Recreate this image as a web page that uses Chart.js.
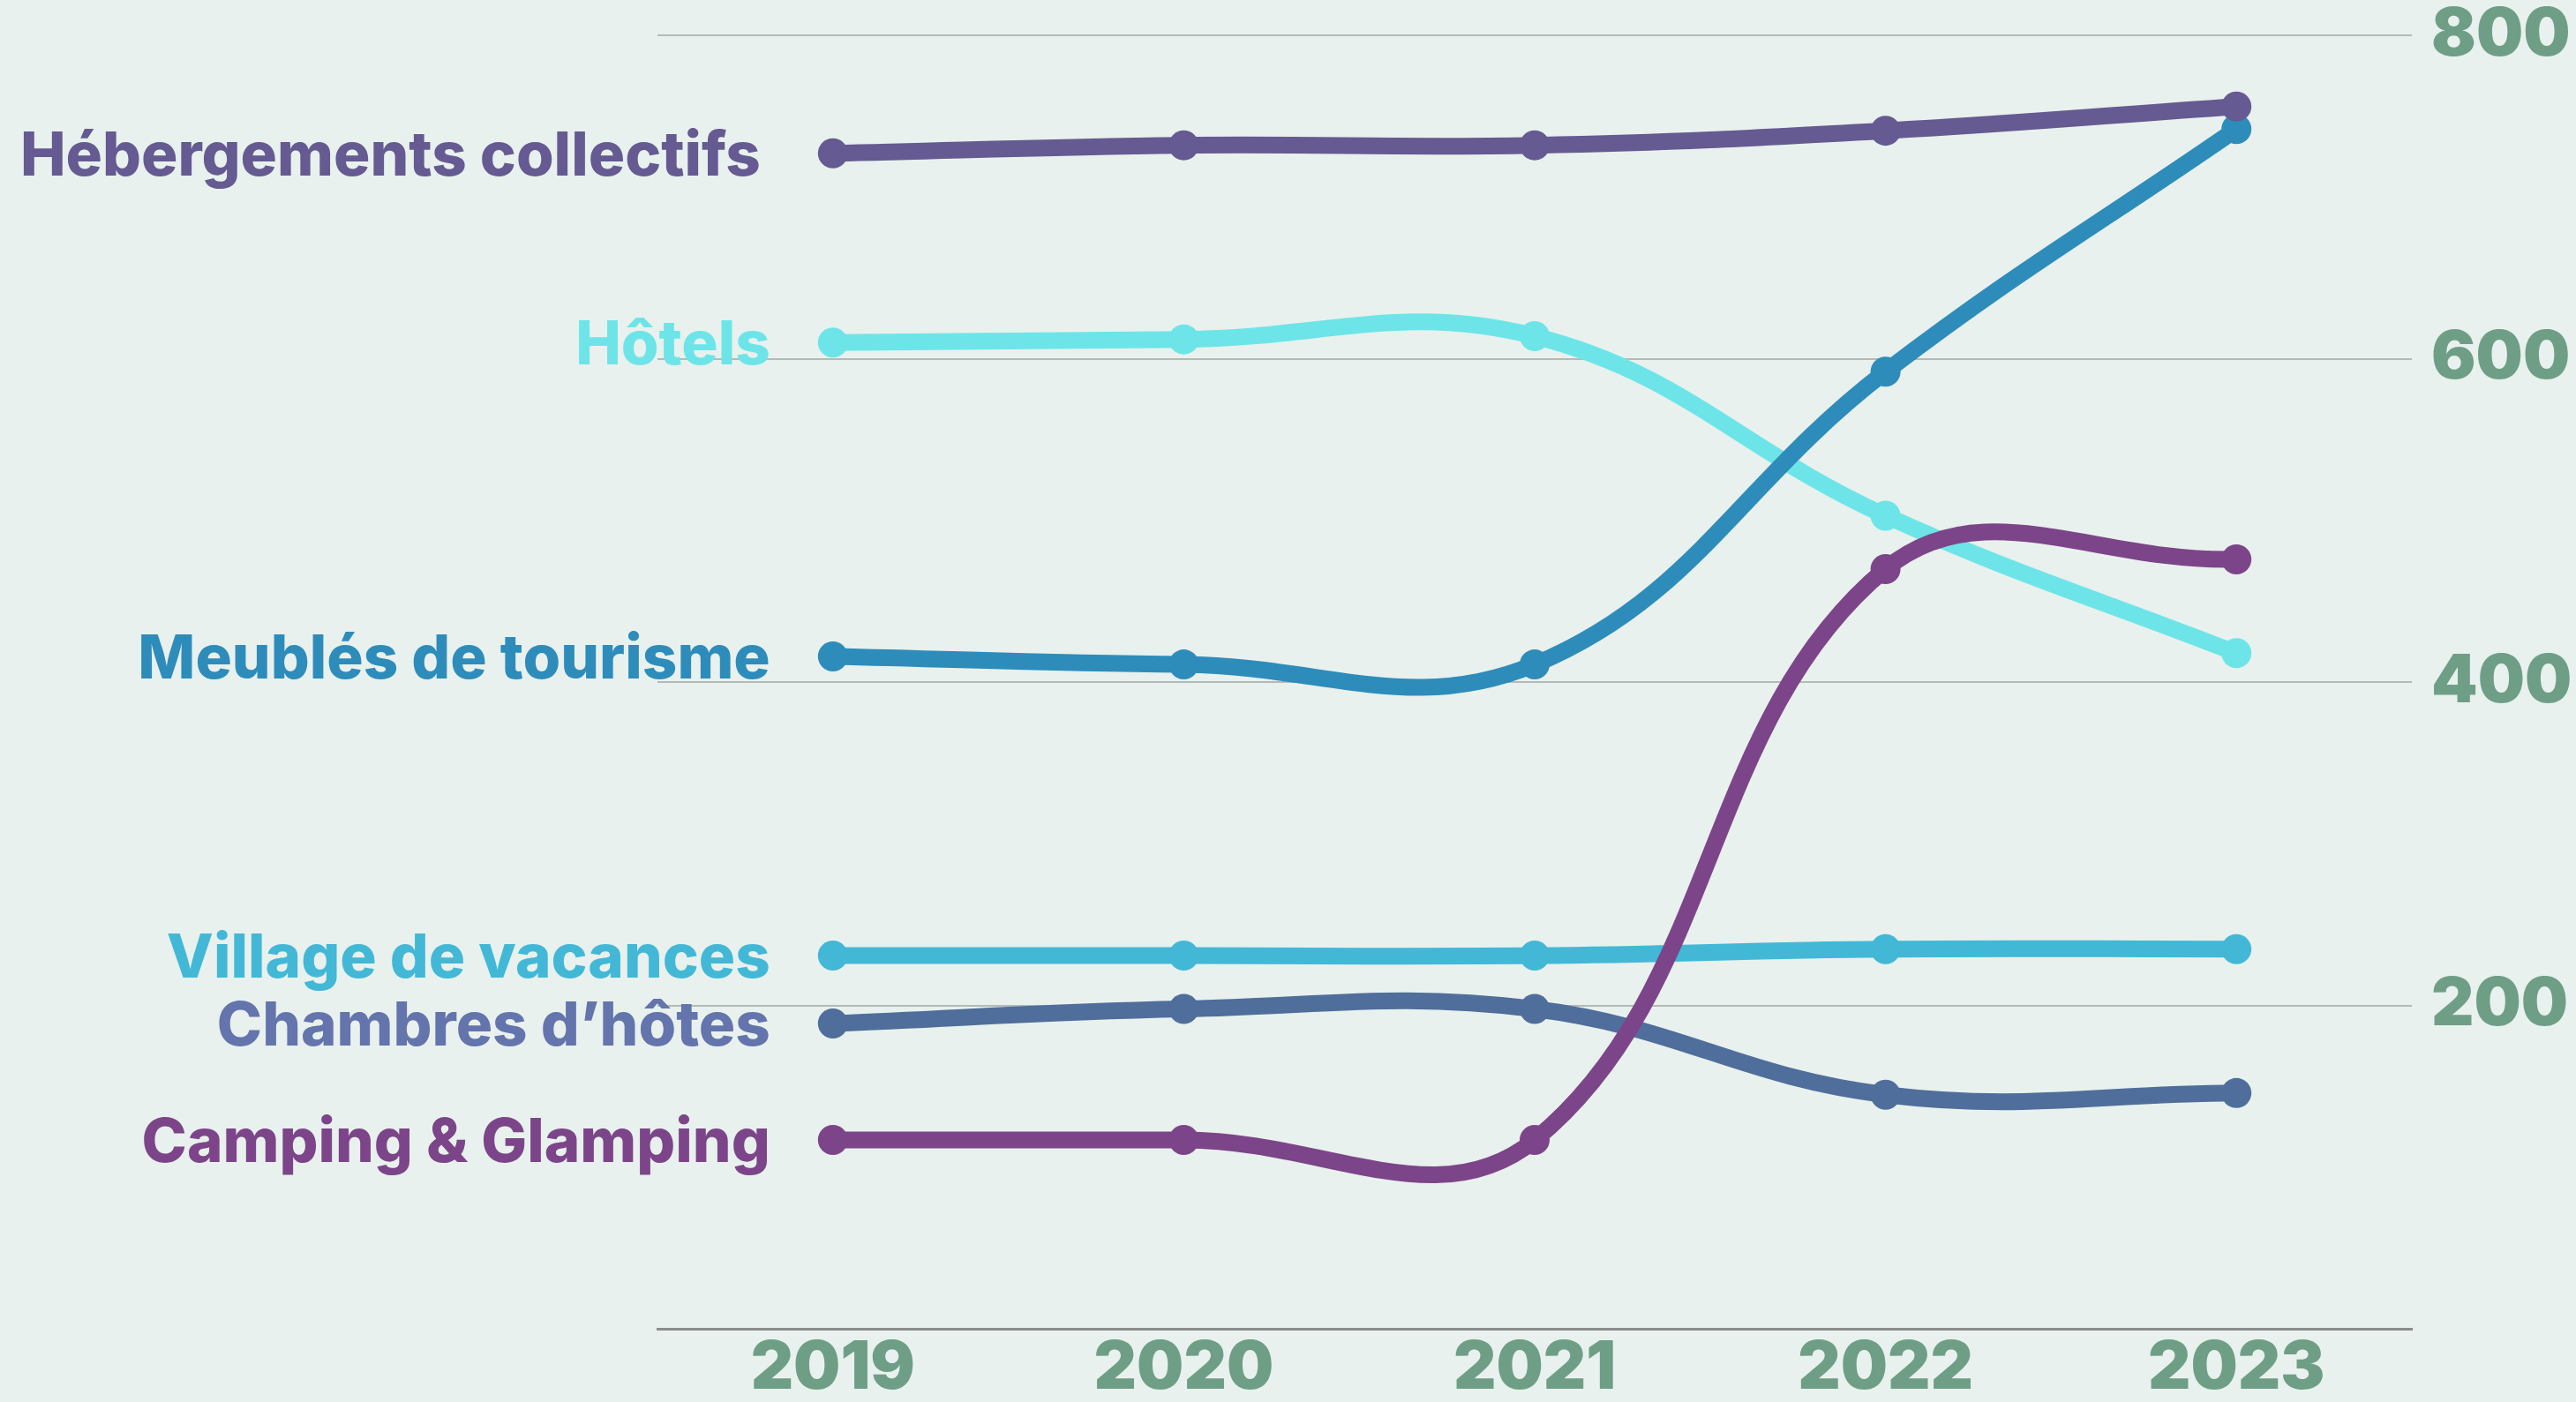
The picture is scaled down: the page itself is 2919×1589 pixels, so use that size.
<!DOCTYPE html>
<html>
<head>
<meta charset="utf-8">
<script src="https://cdn.jsdelivr.net/npm/chart.js@4/dist/chart.umd.min.js"></script>
<style>
  html, body { margin: 0; padding: 0; background: #e8f1ed; }
  #wrap { width: 2919px; height: 1589px; position: relative; }
  canvas { display: block; }
</style>
</head>
<body>
<div id="wrap"><canvas id="c" width="2919" height="1589"></canvas></div>
<script>
const years = ['2019', '2020', '2021', '2022', '2023'];
const yTicks = [200, 400, 600, 800];

const seriesNames = [
  'Hébergements collectifs',
  'Hôtels',
  'Meublés de tourisme',
  'Village de vacances',
  'Chambres d’hôtes',
  'Camping & Glamping'
];
const hebergementsCollectifs = [727, 732, 732, 741, 756];
const hotels = [610, 612, 614, 503, 418];
const meubles = [416, 411, 411, 592, 742];
const villageVacances = [231, 231, 231, 235, 235];
const chambresHotes = [189, 198, 198, 145, 146];
const camping = [117, 117, 117, 470, 476];

const seriesValues = [hebergementsCollectifs, hotels, meubles, villageVacances, chambresHotes, camping];
const lineColors = ['#655a91', '#6de5e8', '#2e8cbb', '#43b8d6', '#4f6e9b', '#7d4589'];
const labelColors = ['#655a91', '#6de5e8', '#2e8cbb', '#43b8d6', '#6474ac', '#7d4589'];
const drawOrder = [1, 5, 2, 4, 3, 0];
const labelShift = [82, 71, 71, 71, 71, 71];

const tickColor = '#6f9e87';

const labelPlugin = {
  id: 'seriesLabels',
  afterDatasetsDraw(chart) {
    const ctx = chart.ctx;
    ctx.save();
    const size = 69;
    ctx.font = '800 ' + size + 'px Inter, "Noto Sans", sans-serif';
    ctx.textAlign = 'right';
    ctx.textBaseline = 'alphabetic';
    chart.data.datasets.forEach((ds, i) => {
      const meta = chart.getDatasetMeta(i);
      const p = meta.data[0];
      ctx.fillStyle = labelColors[i];
      ctx.fillText(ds.label, p.x - labelShift[i], p.y + size * 0.727 / 2);
    });
    ctx.restore();
  }
};

new Chart(document.getElementById('c'), {
  type: 'line',
  data: {
    labels: years,
    datasets: seriesNames.map((name, i) => ({
      label: name,
      data: seriesValues[i],
      borderColor: lineColors[i],
      backgroundColor: lineColors[i],
      pointBackgroundColor: lineColors[i],
      pointBorderColor: lineColors[i],
      borderWidth: 19,
      pointRadius: 17,
      pointBorderWidth: 0,
      tension: 0.4,
      fill: false,
      order: drawOrder[i],
      clip: false
    }))
  },
  options: {
    responsive: false,
    animation: false,
    devicePixelRatio: 1,
    layout: { padding: { left: 745, top: 40, right: 0, bottom: 0 } },
    plugins: { legend: { display: false }, tooltip: { enabled: false } },
    scales: {
      x: {
        offset: true,
        grid: { display: false, drawTicks: false },
        border: { display: true, color: '#8a8e8b', width: 3 },
        ticks: {
          padding: 0,
          color: tickColor,
          font: { family: 'Inter', weight: 900, size: 75, lineHeight: 1.2 }
        },
        afterFit(scale) {
          scale.height = 82.5;
          scale.paddingLeft = 0; scale.paddingRight = 0;
        }
      },
      y: {
        position: 'right',
        min: 0,
        max: 800,
        afterBuildTicks(scale) { scale.ticks = yTicks.map(v => ({ value: v })); },
        grid: { color: '#b6bab7', lineWidth: 2, drawTicks: false },
        border: { display: false },
        ticks: {
          padding: 22,
          color: tickColor,
          font: { family: 'Inter', weight: 900, size: 75 }
        },
        afterFit(scale) {
          scale.width = 186;
          scale.paddingTop = 0; scale.paddingBottom = 0;
        }
      }
    }
  },
  plugins: [labelPlugin]
});
</script>
</body>
</html>
